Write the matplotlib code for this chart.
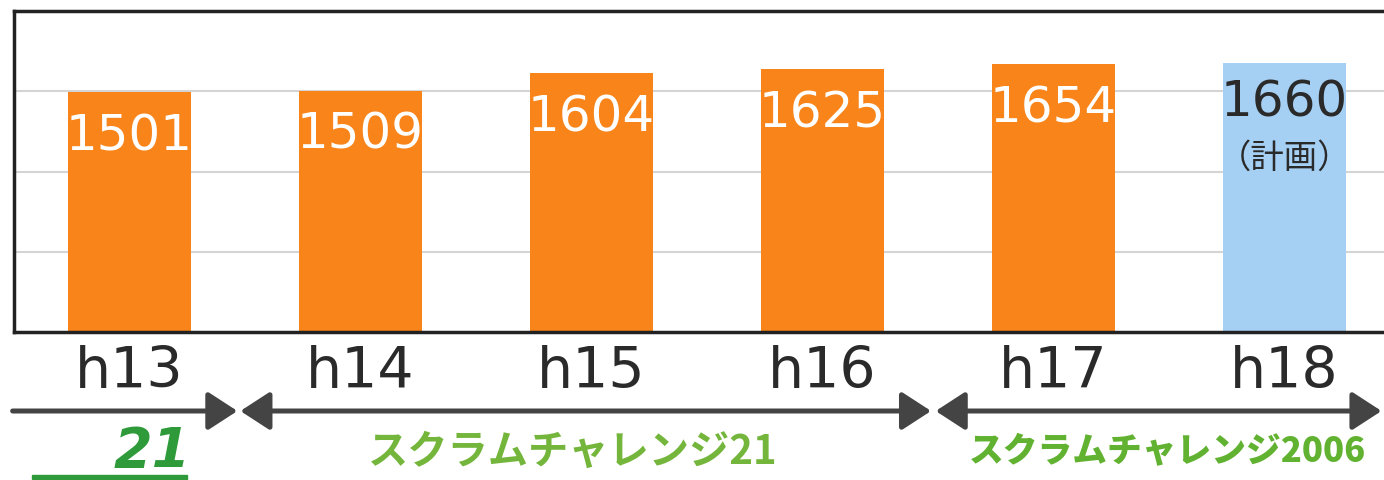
import matplotlib.pyplot as plt

plt.rcParams['font.family'] = ['DejaVu Sans', 'Noto Sans CJK JP']

# data
years = ['h13', 'h14', 'h15', 'h16', 'h17', 'h18']
values = [1501, 1509, 1604, 1625, 1654, 1660]
bar_colors = ['#f8841a'] * 5 + ['#a5cff3']
label_colors = ['white'] * 5 + ['#2a2a2a']
plan_note = '（計画）'
periods = ['21', 'スクラムチャレンジ21', 'スクラムチャレンジ2006']

fig = plt.figure(figsize=(13.84, 4.81), dpi=100)
ax = fig.add_axes([14 / 1384, 148 / 481, 1386 / 1384, 321 / 481])

x = range(len(years))
ax.bar(x, values, width=0.53, color=bar_colors, zorder=2)
ax.set_xlim(-0.5, 5.5)
ymin, ymax = 186, 1945
ax.set_ylim(ymin, ymax)
step = (ymax - ymin) / 4
ax.set_yticks([ymin + step * i for i in range(1, 4)])
ax.grid(axis='y', color='#d4d4d4', lw=1.5, zorder=0)
ax.tick_params(left=False, bottom=False, labelleft=False)
ax.set_xticks(list(x))
ax.set_xticklabels(years, fontsize=41, color='#2a2a2a')
ax.tick_params(axis='x', pad=5)
for side in ['left', 'top', 'bottom']:
    ax.spines[side].set_linewidth(2.5)
    ax.spines[side].set_color('#222222')
ax.spines['right'].set_visible(False)

# value labels
for i, v in enumerate(values):
    off = -31 if i < 5 else -28
    ax.annotate(str(v), (i, v), xytext=(0, off), textcoords='offset points',
                ha='center', va='center', fontsize=36, color=label_colors[i],
                zorder=3)
ax.annotate(plan_note, (5, values[5]), xytext=(0, -68), textcoords='offset points',
            ha='center', va='center', fontsize=24, color='#2a2a2a',
            family=['Noto Sans CJK JP'], zorder=3)

# period arrows
ytr = ax.get_xaxis_transform()
ya = -(412 - 333) / 321
arrow_kw = dict(color='#444444', lw=3.6, shrinkA=0, shrinkB=0, mutation_scale=18)
segments = [(-0.506, 0.467, '-|>'), (0.48, 3.47, '<|-|>'), (3.49, 5.42, '<|-|>')]
for x0, x1, style in segments:
    ax.annotate('', xy=(x1, ya), xytext=(x0, ya), xycoords=ytr, textcoords=ytr,
                annotation_clip=False,
                arrowprops=dict(arrowstyle=style + ',head_length=1.0,head_width=0.65',
                                **arrow_kw))

# period names
fig.text(152 / 1384, 1 - 452 / 481, periods[0], fontsize=40, fontweight='bold',
         style='italic', color='#2e9a3a', ha='center', va='center')
fig.patches.append(plt.Rectangle((32 / 1384, 1 - 480 / 481), 155 / 1384, 4 / 481,
                                 transform=fig.transFigure, color='#2e9a3a'))
fig.text(573 / 1384, 1 - 452 / 481, periods[1], fontsize=29, fontweight='bold',
         color='#74b63c', ha='center', va='center', family=['Noto Sans CJK JP'])
fig.text(1167 / 1384, 1 - 452 / 481, periods[2], fontsize=25, fontweight='heavy',
         color='#62b232', ha='center', va='center', family=['Noto Sans CJK JP'])

fig.savefig('out.png', dpi=100)
